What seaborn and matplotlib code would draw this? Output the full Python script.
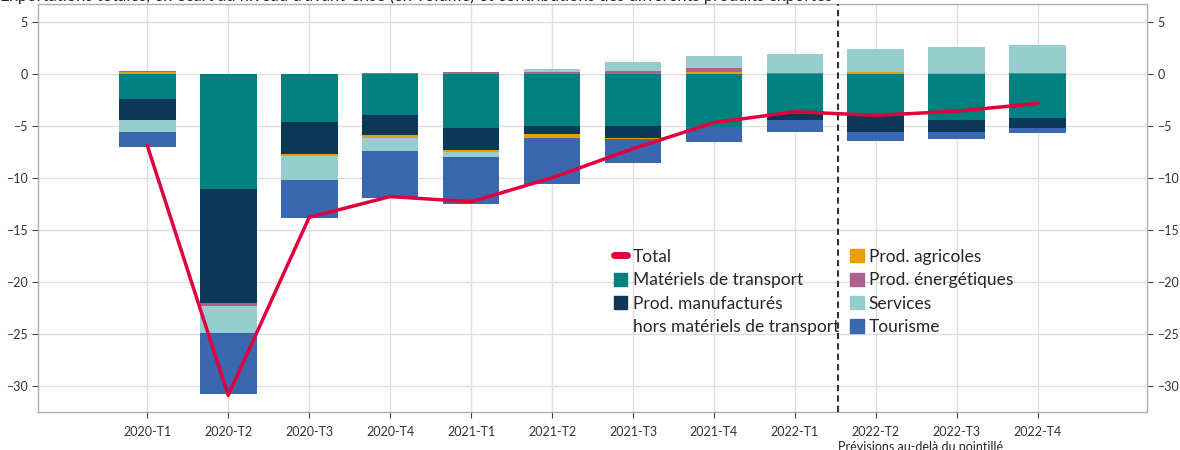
import numpy as np
import matplotlib
matplotlib.use("Agg")
import matplotlib.pyplot as plt
import seaborn as sns
from matplotlib.patches import Patch
from matplotlib.lines import Line2D

# Trimestres
trimestres = ["2020-T1", "2020-T2", "2020-T3", "2020-T4", "2021-T1", "2021-T2",
              "2021-T3", "2021-T4", "2022-T1", "2022-T2", "2022-T3", "2022-T4"]

# Contributions (en points)
transport = [-2.4, -11.05, -4.6, -3.95, -5.2, -5.0, -5.0, -5.1, -3.85, -4.1, -4.4, -4.3]
manufactures = [-2.0, -11.0, -3.1, -1.95, -2.1, -0.8, -1.15, 0.0, -0.58, -1.45, -1.15, -0.9]
agricoles = [0.15, 0.0, -0.2, -0.3, -0.2, -0.35, -0.1, 0.2, 0.0, 0.13, 0.1, 0.0]
energetiques = [0.07, -0.26, 0.0, 0.1, 0.15, 0.2, 0.3, 0.38, 0.1, 0.0, 0.0, 0.1]
services = [-1.2, -2.6, -2.3, -1.25, -0.5, 0.3, 0.85, 1.15, 1.8, 2.28, 2.5, 2.7]
tourisme = [-1.4, -5.9, -3.65, -4.5, -4.5, -4.4, -2.3, -1.5, -1.15, -0.95, -0.75, -0.5]

# Total (en %)
total = [-6.9, -30.9, -13.8, -11.8, -12.3, -10.0, -7.2, -4.7, -3.65, -4.0, -3.6, -2.85]

couleurs = {
    "Matériels de transport": "#00807f",
    "Prod. manufacturés": "#0b3858",
    "Prod. agricoles": "#e8a000",
    "Prod. énergétiques": "#b0608f",
    "Services": "#96cecf",
    "Tourisme": "#3a68b0",
}
rouge = "#e2003c"

sns.set_theme(style="whitegrid")
plt.rcParams["font.family"] = ["Lato", "DejaVu Sans"]

fig = plt.figure(figsize=(11.8, 4.5), dpi=100)
ax = fig.add_axes([38 / 1180, 1 - 412 / 450, 1109 / 1180, 408 / 450])

x = np.arange(len(trimestres))
couches = [transport, manufactures, agricoles, energetiques, services, tourisme]
base_pos = np.zeros(len(x))
base_neg = np.zeros(len(x))
for vals, (nom, c) in zip(couches, couleurs.items()):
    v = np.array(vals)
    pos = np.where(v > 0, v, 0)
    neg = np.where(v < 0, v, 0)
    ax.bar(x, pos, bottom=base_pos, width=0.7, color=c, linewidth=0, zorder=2)
    ax.bar(x, neg, bottom=base_neg, width=0.7, color=c, linewidth=0, zorder=2)
    base_pos += pos
    base_neg += neg

sns.lineplot(x=x, y=total, ax=ax, color=rouge, linewidth=2.5, zorder=5)

# ligne de séparation des prévisions
ax.axvline(8.53, color="#333333", linewidth=1.5, linestyle=(0, (3, 2)), zorder=4)

ax.set_xlim(-1.35, 12.35)
ax.set_ylim(-32.5, 6.7)
ax.set_xticks(x)
ax.set_xticklabels(trimestres)
ax.set_yticks(np.arange(-30, 6, 5))
ax.tick_params(axis="both", labelsize=9, colors="#444444", length=4, width=0.8)
ax.tick_params(axis="y", labelright=True, right=True, left=True)
ax.tick_params(axis="x", bottom=True, pad=6)
for lab in ax.get_xticklabels() + ax.get_yticklabels():
    lab.set_color("#333333")
ax.grid(True, color="#dedede", linewidth=1)
for s in ax.spines.values():
    s.set_color("#b0b0b0")
    s.set_linewidth(1)
ax.set_facecolor("white")

# légendes
noms = list(couleurs.keys())
vide = Patch(facecolor="none", edgecolor="none")
h_gauche = [Line2D([0], [0], color=rouge, linewidth=5)] + \
    [Patch(color=couleurs[n]) for n in noms[:2]] + [vide]
l_gauche = ["Total"] + noms[:2] + ["hors matériels de transport"]
opts = dict(loc="upper left", frameon=False, fontsize=12.5, handlelength=0.8,
            handleheight=0.8, handletextpad=0.3, labelspacing=0.43, borderpad=0.2)
leg1 = ax.legend(h_gauche, l_gauche, bbox_to_anchor=(0.508, 0.43), **opts)
ax.add_artist(leg1)
h_droite = [Patch(color=couleurs[n]) for n in noms[2:]]
ax.legend(h_droite, noms[2:], bbox_to_anchor=(0.721, 0.43), **opts)

fig.text(0.0, 1 - 1 / 450,
         "Exportations totales, en écart au niveau d'avant-crise (en volume) et contributions des différents produits exportés",
         ha="left", va="baseline", fontsize=12, color="#222222")
fig.text(838 / 1180, 1 - 441 / 450, "Prévisions au-delà du pointillé",
         ha="left", va="top", fontsize=9, color="#222222")

fig.savefig("out.png", dpi=100)
